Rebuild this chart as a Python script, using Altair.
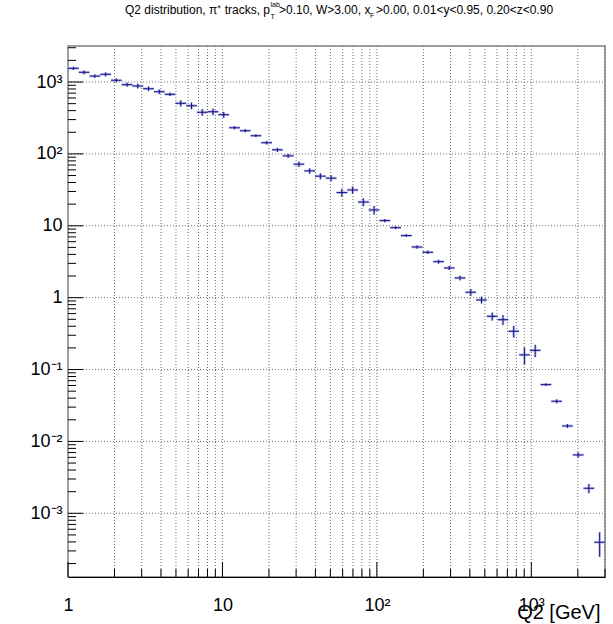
import numpy as np
import pandas as pd
import altair as alt

# Histogram definition: 50 log-spaced bins in Q2 from 1 to 3000 GeV^2
Q2_MIN = 1.0
Q2_MAX = 3000.0
N_BINS = 50

# Bin contents
counts = [
    1550, 1365, 1210, 1280, 1057, 918, 880, 807, 733, 675,
    506, 468, 379, 386, 351, 231, 210, 179, 143, 114,
    94, 72, 58, 49, 46, 29, 31.5, 21.4, 16.6, 11.8,
    9.4, 7.3, 5.07, 4.28, 3.17, 2.59, 1.88, 1.19, 0.93, 0.55,
    0.494, 0.341, 0.16, 0.185, 0.0617, 0.0362, 0.0164, 0.00649, 0.00223, 0.000396,
]

# Bin errors
errors = [
    83, 87, 65, 82, 68, 59, 66, 60, 55, 36,
    49, 50, 40, 41, 34, 12, 11, 7.6, 7.6, 7.3,
    6.0, 6.1, 5.0, 4.7, 4.4, 3.7, 3.7, 2.7, 2.3, 0.63,
    0.40, 0.31, 0.27, 0.23, 0.20, 0.17, 0.14, 0.127, 0.10, 0.07,
    0.079, 0.062, 0.043, 0.036, 0.0026, 0.0023, 0.00105, 0.00056, 0.00033, 0.000148,
]

# Axis ranges
y_domain = [1.3e-4, 3170]
x_domain = [Q2_MIN, Q2_MAX]

x_major = [1, 10, 100, 1000]
x_minor = [m * 10 ** k for k in range(0, 4) for m in range(2, 10) if m * 10 ** k <= Q2_MAX]
y_major = [1e-3, 1e-2, 1e-1, 1, 10, 100, 1000]
y_minor = [m * 10.0 ** k for k in range(-4, 4) for m in range(2, 10)
           if y_domain[0] <= m * 10.0 ** k <= y_domain[1]]

edges = np.logspace(np.log10(Q2_MIN), np.log10(Q2_MAX), N_BINS + 1)
hist = pd.DataFrame({
    "lo": edges[:-1],
    "hi": edges[1:],
    "center": np.sqrt(edges[:-1] * edges[1:]),
    "y": counts,
    "err": errors,
})
hist["ylo"] = hist["y"] - hist["err"]
hist["yhi"] = hist["y"] + hist["err"]

W, H = 537, 531
FONT = "Liberation Sans"

xs = alt.Scale(type="log", domain=x_domain, nice=False)
ys = alt.Scale(type="log", domain=y_domain, nice=False)

x_label_expr = ("datum.value >= 999 ? '10³' : datum.value >= 99 ? '10²' : "
                "datum.value >= 9 ? '10' : '1'")
y_label_expr = ("datum.value >= 999 ? '10³' : datum.value >= 99 ? '10²' : "
                "datum.value >= 9 ? '10' : datum.value >= 0.9 ? '1' : "
                "datum.value >= 0.09 ? '10⁻¹' : datum.value >= 0.009 ? '10⁻²' : '10⁻³'")

grid_color = "#6f6f6f"

# Vertical grid at every 1..9 x 10^k, horizontal grid at decades
vgrid = alt.Chart(pd.DataFrame({"x": x_major[1:] + x_minor})).mark_rule(
    color=grid_color, strokeDash=[1, 2], strokeWidth=1
).encode(x=alt.X("x:Q", scale=xs), y=alt.value(0), y2=alt.value(H))

hgrid = alt.Chart(pd.DataFrame({"y": y_major})).mark_rule(
    color=grid_color, strokeDash=[1, 2], strokeWidth=1
).encode(y=alt.Y("y:Q", scale=ys), x=alt.value(0), x2=alt.value(W))

# Inward-pointing ticks
xt_major = alt.Chart(pd.DataFrame({"x": x_major})).mark_rule(color="black").encode(
    x=alt.X("x:Q", scale=xs), y=alt.value(H), y2=alt.value(H - 15))
xt_minor = alt.Chart(pd.DataFrame({"x": x_minor})).mark_rule(color="black").encode(
    x=alt.X("x:Q", scale=xs), y=alt.value(H), y2=alt.value(H - 8))
yt_major = alt.Chart(pd.DataFrame({"y": y_major})).mark_rule(color="black").encode(
    y=alt.Y("y:Q", scale=ys), x=alt.value(0), x2=alt.value(15))
yt_minor = alt.Chart(pd.DataFrame({"y": y_minor})).mark_rule(color="black").encode(
    y=alt.Y("y:Q", scale=ys), x=alt.value(0), x2=alt.value(8))

# Axes carrying the labels and the x title
axes = alt.Chart(pd.DataFrame({"x": [1.0], "y": [1.0]})).mark_point(opacity=0).encode(
    x=alt.X("x:Q", scale=xs, axis=alt.Axis(
        values=x_major, labelExpr=x_label_expr, grid=False, ticks=False,
        domain=True, domainColor="black", domainWidth=1,
        labelFont=FONT, labelFontSize=18, labelColor="black", labelPadding=19,
        labelFlush=False, labelOverlap=False,
        title="Q2 [GeV]", titleFont=FONT, titleFontSize=20, titleFontWeight="normal",
        titleColor="black", titleAnchor="end", titleAlign="right",
        titleX=W - 5, titleY=41, titleBaseline="alphabetic")),
    y=alt.Y("y:Q", scale=ys, axis=alt.Axis(
        values=y_major, labelExpr=y_label_expr, grid=False, ticks=False,
        domain=False, labelFont=FONT, labelFontSize=18, labelColor="black",
        labelPadding=6, labelFlush=False, labelOverlap=False, title=None)),
)

# Error-bar crosses: horizontal bar spans the bin, vertical bar spans +/- error
halo = "#9494d6"
core = "#16168e"
hbar_halo = alt.Chart(hist).mark_rule(color=halo, strokeWidth=2.6, opacity=0.6).encode(
    x=alt.X("lo:Q", scale=xs), x2="hi:Q", y=alt.Y("y:Q", scale=ys))
vbar_halo = alt.Chart(hist).mark_rule(color=halo, strokeWidth=2.6, opacity=0.6).encode(
    x=alt.X("center:Q", scale=xs), y=alt.Y("ylo:Q", scale=ys), y2="yhi:Q")
hbar = alt.Chart(hist).mark_rule(color=core, strokeWidth=1).encode(
    x=alt.X("lo:Q", scale=xs), x2="hi:Q", y=alt.Y("y:Q", scale=ys))
vbar = alt.Chart(hist).mark_rule(color=core, strokeWidth=1).encode(
    x=alt.X("center:Q", scale=xs), y=alt.Y("ylo:Q", scale=ys), y2="yhi:Q")

# Title with sub/superscripts
TS = 12
TY = -32
one = pd.DataFrame({"a": [0]})

def title_piece(text, x, dy, size, align="left"):
    return alt.Chart(one).mark_text(
        text=text, font=FONT, fontSize=size, align=align, baseline="alphabetic",
        color="black"
    ).encode(x=alt.value(x), y=alt.value(TY + dy))

title = (
    title_piece("Q2 distribution, π⁺ tracks, p", 202, 0, TS, "right")
    + title_piece("lab", 202.5, -7, 7)
    + title_piece("T", 202.5, 5, 7)
    + title_piece(">0.10, W>3.00, x", 211, 0, TS)
    + title_piece("F", 302, 4, 7)
    + title_piece(">0.00, 0.01<y<0.95, 0.20<z<0.90", 308, 0, TS)
)

chart = alt.layer(
    vgrid, hgrid, axes, xt_minor, xt_major, yt_minor, yt_major,
    hbar_halo, vbar_halo, hbar, vbar, title,
).properties(
    width=W, height=H,
    autosize=alt.AutoSizeParams(type="none"),
    padding={"left": 68, "top": 46, "right": 8, "bottom": 47},
    background="white",
).configure_view(stroke="#808080", strokeWidth=1.5)

chart.save("out.html", embed_options={"renderer": "svg", "actions": False})
